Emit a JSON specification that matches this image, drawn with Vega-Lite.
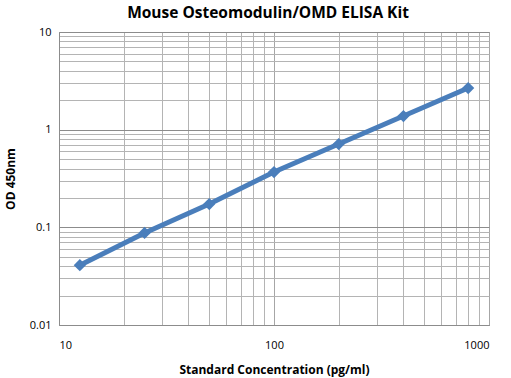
{
  "$schema": "https://vega.github.io/schema/vega-lite/v6.json",
  "width": 430,
  "height": 293,
  "autosize": {"type": "none"},
  "padding": {"left": 59, "top": 32, "right": 22, "bottom": 53},
  "background": "white",
  "title": {
    "text": "Mouse Osteomodulin/OMD ELISA Kit",
    "font": "Open Sans",
    "fontSize": 15.5,
    "fontWeight": "bold",
    "color": "#000000",
    "anchor": "middle",
    "offset": 5,
    "dx": -6
  },
  "data": {
    "values": [
      {"conc": 12.5, "od": 0.041},
      {"conc": 25, "od": 0.0875},
      {"conc": 50, "od": 0.173},
      {"conc": 100, "od": 0.368},
      {"conc": 200, "od": 0.713},
      {"conc": 400, "od": 1.38},
      {"conc": 800, "od": 2.67}
    ]
  },
  "config": {
    "view": {"stroke": "#8c8c8c", "strokeWidth": 1},
    "axis": {
      "labelFont": "Open Sans",
      "labelFontSize": 11,
      "labelColor": "#000000",
      "titleFont": "Open Sans",
      "titleFontSize": 12,
      "titleFontWeight": "bold",
      "titleColor": "#000000",
      "domainColor": "#8c8c8c",
      "tickColor": "#8c8c8c",
      "gridOpacity": 1
    }
  },
  "encoding": {
    "x": {
      "field": "conc",
      "type": "quantitative",
      "scale": {"type": "log", "domain": [10, 1000], "nice": false},
      "axis": {
        "title": "Standard Concentration (pg/ml)",
        "values": [10, 20, 30, 40, 50, 60, 70, 80, 90, 100, 200, 300, 400, 500, 600, 700, 800, 900, 1000],
        "labelExpr": "(datum.value == 10 || datum.value == 100 || datum.value == 1000) ? datum.label : ''",
        "format": "d",
        "labelPadding": 14,
        "ticks": false,
        "titlePadding": 14,
        "gridColor": {"condition": {"test": "datum.value == 10 || datum.value == 100 || datum.value == 1000", "value": "#a6a6a6"}, "value": "#b4b4b4"}
      }
    },
    "y": {
      "field": "od",
      "type": "quantitative",
      "scale": {"type": "log", "domain": [0.01, 10], "nice": false},
      "axis": {
        "title": "OD 450nm",
        "values": [0.01, 0.02, 0.03, 0.04, 0.05, 0.06, 0.07, 0.08, 0.09, 0.1, 0.2, 0.3, 0.4, 0.5, 0.6, 0.7, 0.8, 0.9, 1, 2, 3, 4, 5, 6, 7, 8, 9, 10],
        "labelExpr": "(datum.value == 0.01 || datum.value == 0.1 || datum.value == 1 || datum.value == 10) ? format(datum.value, '~g') : ''",
        "labelPadding": 8,
        "ticks": false,
        "titlePadding": 12,
        "gridColor": {"condition": {"test": "datum.value == 0.01 || datum.value == 0.1 || datum.value == 1 || datum.value == 10", "value": "#8c8c8c"}, "value": "#b4b4b4"}
      }
    }
  },
  "layer": [
    {"mark": {"type": "line", "color": "#4a7ebb", "strokeWidth": 5}},
    {"mark": {"type": "point", "shape": "diamond", "filled": true, "color": "#4a7ebb", "size": 150, "opacity": 1}}
  ]
}
